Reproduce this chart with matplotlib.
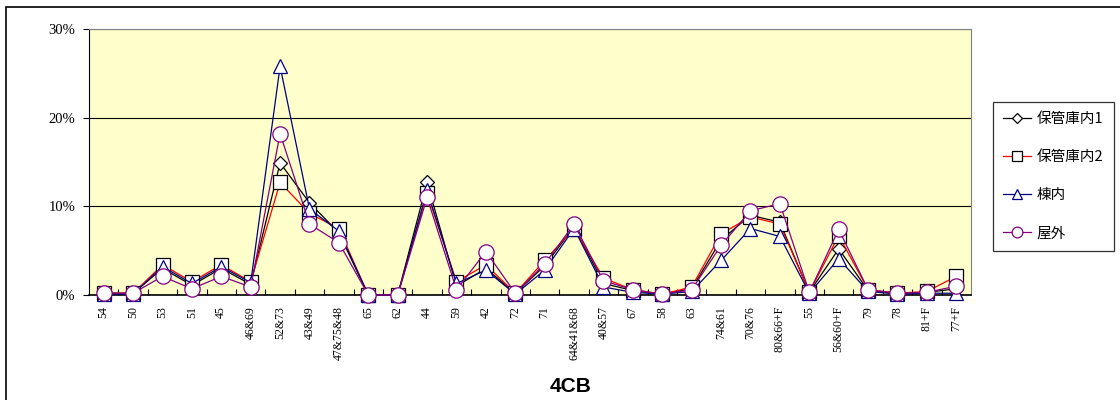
import matplotlib
matplotlib.use("Agg")
import matplotlib.pyplot as plt
from matplotlib.patches import Rectangle
from matplotlib.ticker import FuncFormatter, FixedLocator

categories = ["54", "50", "53", "51", "45", "46&69", "52&73", "43&49", "47&75&48",
              "65", "62", "44", "59", "42", "72", "71", "64&41&68", "40&57", "67",
              "58", "63", "74&61", "70&76", "80&66+F", "55", "56&60+F", "79", "78",
              "81+F", "77+F"]

# percent values
hokan1 = [0.2, 0.2, 3.0, 1.1, 3.0, 1.2, 14.9, 10.4, 7.0, 0.0, 0.0, 12.7, 1.0, 3.0, 0.2,
          3.3, 7.7, 1.3, 0.5, 0.1, 0.7, 6.2, 9.0, 8.2, 0.3, 5.2, 0.5, 0.2, 0.3, 0.7]
hokan2 = [0.2, 0.2, 3.4, 1.5, 3.4, 1.5, 12.7, 9.2, 7.5, 0.0, 0.0, 11.5, 1.5, 3.4, 0.2,
          3.9, 7.5, 1.9, 0.6, 0.1, 0.9, 6.9, 8.8, 8.0, 0.3, 6.7, 0.6, 0.2, 0.4, 2.1]
tounai = [0.1, 0.1, 3.2, 1.3, 3.2, 1.4, 25.8, 9.7, 7.2, 0.0, 0.0, 11.8, 1.3, 2.8, 0.1,
          2.8, 7.5, 0.9, 0.3, 0.1, 0.4, 3.9, 7.5, 6.6, 0.2, 4.1, 0.4, 0.1, 0.2, 0.2]
okugai = [0.2, 0.2, 2.1, 0.7, 2.1, 0.9, 18.2, 8.0, 5.9, 0.0, 0.0, 11.0, 0.6, 4.9, 0.2,
          3.5, 8.0, 1.6, 0.6, 0.1, 0.6, 5.6, 9.5, 10.3, 0.3, 7.4, 0.6, 0.2, 0.3, 1.0]

series = [("保管庫内1", hokan1, "black", "D", 7),
          ("保管庫内2", hokan2, "red", "s", 10),
          ("棟内", tounai, "#000080", "^", 10),
          ("屋外", okugai, "#800080", "o", 11)]

plt.rcParams['font.family'] = ['Liberation Serif', 'DejaVu Serif']

fig = plt.figure(figsize=(11.2, 4.0), dpi=100)
fig.patches.append(Rectangle((6 / 1120, -0.1), 1.2, 1.1 - 7 / 400, transform=fig.transFigure,
                             fill=False, edgecolor="black", linewidth=1.2))

ax = fig.add_axes([89 / 1120, 105 / 400, 882 / 1120, 266 / 400])
ax.set_facecolor("#FFFFCC")

x = list(range(len(categories)))
handles = []
for i, (name, vals, col, mk, ms) in enumerate(series):
    h, = ax.plot(x, vals, color=col, linewidth=0.9, marker=mk, markersize=ms,
                 markerfacecolor="white",
                 markeredgecolor="black" if i < 2 else col,
                 markeredgewidth=0.9, label=name, zorder=3 + i, clip_on=False)
    handles.append(h)

ax.set_xlim(-0.5, len(categories) - 0.5)
ax.set_ylim(0, 30)
ax.set_yticks([0, 10, 20, 30])
ax.yaxis.set_major_formatter(FuncFormatter(lambda v, p: f"{int(v)}%"))
ax.grid(axis="y", color="black", linewidth=0.8)
ax.set_axisbelow(True)

ax.set_xticks(x)
ax.set_xticklabels(categories, rotation=90, fontsize=8.5)
ax.xaxis.set_minor_locator(FixedLocator([i + 0.5 for i in x[:-1]]))
ax.tick_params(axis="x", which="major", length=0, pad=8)
ax.tick_params(axis="x", which="minor", length=4, direction="in", width=0.8)
ax.tick_params(axis="y", labelsize=10.5, length=4, width=0.8, pad=6)

for s in ["top", "right"]:
    ax.spines[s].set_color("gray")
ax.spines["left"].set_color("black")
ax.spines["bottom"].set_color("black")
ax.spines["bottom"].set_linewidth(1.2)

leg = fig.legend(handles=handles, loc="upper left",
                 bbox_to_anchor=(993 / 1120, 1 - 102 / 400),
                 prop={"family": ["Noto Sans CJK JP", "DejaVu Sans"], "size": 10.5},
                 frameon=True, fancybox=False, shadow=False, edgecolor="black",
                 handlelength=1.9, handletextpad=0.4, labelspacing=1.65,
                 borderpad=0.7, borderaxespad=0, markerscale=0.7)
leg.get_frame().set_linewidth(0.9)

fig.text(571 / 1120, 1 - 387 / 400, "4CB", ha="center", va="center",
         fontsize=15, fontweight="bold", family=["Liberation Sans", "DejaVu Sans"])

fig.savefig("out.png", dpi=100)
